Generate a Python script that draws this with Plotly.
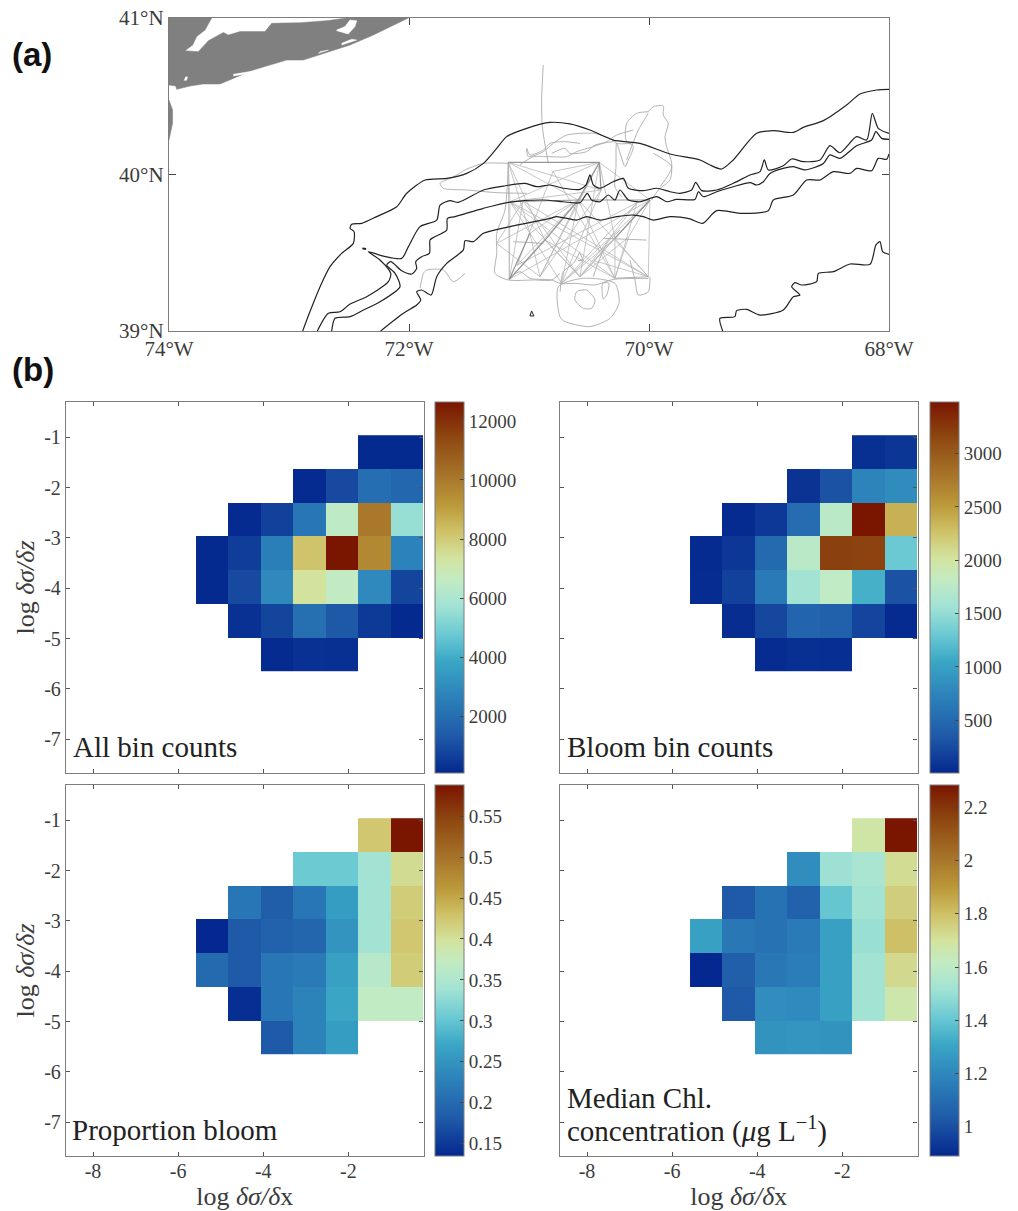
import plotly.graph_objects as go

# ---------- Map data (lon / lat) ----------
land_lon = [-74.0,-73.644,-73.70,-73.769,-73.803,-73.867,-73.756,-73.672,-73.547,-73.506,-73.408,-73.325,-73.20,-73.144,-72.908,-72.686,-72.519,-72.006,-72.297,-72.492,-72.742,-72.881,-73.019,-73.158,-73.297,-73.464,-73.575,-73.714,-73.825,-73.936,-73.944,-74.0]
land_lat = [41.0,41.0,40.923,40.881,40.827,40.791,40.785,40.855,40.908,40.891,40.913,40.913,40.913,40.966,40.97,40.983,41.0,41.0,40.891,40.827,40.763,40.731,40.731,40.70,40.668,40.614,40.578,40.578,40.565,40.544,40.565,40.572]
sliver_lon = [-74.0,-73.97,-73.97,-74.0]
sliver_lat = [40.476,40.412,40.327,40.22]
bay_lon = [-72.603,-72.533,-72.492,-72.436,-72.45,-72.506,-72.603,None,-73.464,-73.325,-73.158,-73.164,-73.269,-73.464,None,-72.561,-72.478,-72.436,-72.492,-72.561,None,-72.742,-72.672,-72.756,None,-73.875,-73.86,-73.845,-73.855]
bay_lat = [40.923,40.945,40.987,40.983,40.945,40.898,40.919,None,40.640,40.658,40.665,40.655,40.652,40.630,None,40.838,40.864,40.859,40.844,40.827,None,40.785,40.795,40.774,None,40.60,40.625,40.622,40.60]

iso_a_lon = [-72.886,-72.825,-72.741,-72.658,-72.561,-72.464,-72.458,-72.491,-72.477,-72.394,-72.269,-72.102,-72.019,-71.866,-71.686,-71.519,-71.38,-71.269,-71.186,-71.019,-70.825,-70.659,-70.492,-70.298,-70.075,-69.825,-69.575,-69.492,-69.395,-69.298,-69.103,-68.964,-68.798,-68.714,-68.547,-68.353,-68.242,-68.103,-68.0]
iso_a_lat = [39.0,39.124,39.283,39.411,39.496,39.56,39.635,39.656,39.682,39.688,39.731,39.794,39.88,39.965,39.975,40.007,40.071,40.167,40.242,40.295,40.333,40.323,40.284,40.22,40.199,40.131,40.093,40.061,40.035,40.093,40.263,40.28,40.269,40.301,40.344,40.444,40.514,40.54,40.544]

iso_b_lon = [-72.764,-72.672,-72.575,-72.491,-72.353,-72.172,-72.152,-72.242,-72.339,-72.214,-72.061,-72.005,-71.908,-71.769,-71.741,-71.658,-71.589,-71.38,-71.214,-71.033,-70.936,-70.825,-70.714,-70.575,-70.525,-70.492,-70.464,-70.409,-70.298,-70.214,-70.172,-70.047,-69.936,-69.825,-69.742,-69.645,-69.611,-69.561,-69.436,-69.297,-69.158,-69.075,-69.039,-69.006,-68.881,-68.811,-68.714,-68.575,-68.492,-68.409,-68.27,-68.186,-68.139,-68.089,-68.0]
iso_b_lat = [39.0,39.113,39.123,39.172,39.219,39.315,39.368,39.454,39.507,39.479,39.464,39.539,39.667,39.709,39.805,39.833,39.822,39.901,39.926,39.943,39.922,39.933,39.912,39.905,39.933,39.997,39.933,39.912,39.954,39.975,39.912,39.897,39.912,39.89,39.88,39.901,39.95,39.897,39.901,39.944,39.997,40.018,40.093,40.029,40.056,40.099,40.082,40.093,40.184,40.139,40.242,40.22,40.391,40.295,40.263]

iso_c_lon = [-72.644,-72.616,-72.491,-72.38,-72.241,-72.075,-72.116,-72.186,-72.152,-72.061,-71.977,-71.936,-71.944,-71.894,-71.83,-71.825,-71.797,-71.686,-71.68,-71.616,-71.38,-71.158,-70.881,-70.714,-70.575,-70.514,-70.478,-70.409,-70.339,-70.284,-70.242,-70.172,-70.075,-69.936,-69.853,-69.77,-69.617,-69.589,-69.547,-69.436,-69.297,-69.158,-69.103,-69.047,-68.992,-68.881,-68.797,-68.70,-68.547,-68.492,-68.409,-68.27,-68.145,-68.109,-68.061,-68.0]
iso_c_lat = [39.0,39.081,39.092,39.134,39.187,39.283,39.368,39.422,39.443,39.385,39.364,39.40,39.443,39.475,39.496,39.581,39.598,39.645,39.72,39.731,39.784,39.824,39.837,39.826,39.82,39.88,39.837,39.826,39.869,39.837,39.901,39.837,39.826,39.858,39.826,39.841,39.841,39.89,39.858,39.89,39.922,39.948,39.933,39.954,40.007,40.039,40.05,40.029,40.071,40.125,40.103,40.184,40.22,40.274,40.231,40.225]

iso_d_lon = [-72.236,-72.047,-71.936,-71.902,-71.936,-71.894,-71.816,-71.769,-71.686,-71.547,-71.533,-71.463,-71.38,-71.158,-70.825,-70.77,-70.603,-70.52,-70.409,-70.27,-70.131,-70.047,-69.964,-69.825,-69.658,-69.553,-69.436,-69.242,-69.006,-68.964,-68.797,-68.686,-68.575,-68.464,-68.325,-68.27,-68.145,-68.089,-68.02,-68.0]
iso_d_lat = [39.0,39.113,39.166,39.198,39.251,39.262,39.23,39.347,39.432,39.518,39.577,39.571,39.624,39.667,39.72,39.731,39.709,39.731,39.709,39.731,39.741,39.731,39.709,39.731,39.716,39.688,39.769,39.752,39.769,39.837,39.869,39.965,39.965,40.018,40.007,40.039,40.024,40.103,40.097,40.131]

iso_e_lon = [-69.386,-69.409,-69.284,-69.27,-69.186,-69.075,-68.881,-68.797,-68.742,-68.811,-68.784,-68.728,-68.603,-68.589,-68.464,-68.325,-68.158,-68.109,-68.075,-68.053,-68.0]
iso_e_lat = [39.0,39.081,39.092,39.13,39.138,39.102,39.134,39.219,39.23,39.283,39.309,39.294,39.315,39.368,39.379,39.428,39.426,39.55,39.571,39.507,39.49]

islet_lon = [-70.992,-70.978,-70.959,-70.992]
islet_lat = [39.096,39.128,39.096,39.096]
dash_lon = [-72.389,-72.358]
dash_lat = [39.528,39.524]

# Survey stations and the legs run between them
station_lon = [-71.173,-70.414,-71.159,-70.589,-69.992,-71.164,-70.006,-70.284,-70.867,-70.728,-70.284,-70.575,-70.992,-70.909,-71.27,-70.40,-71.05,-70.10,-70.80,-70.46,-70.17,-71.10]
station_lat = [40.078,40.078,39.826,39.837,39.837,39.33,39.347,39.592,39.581,39.305,39.337,39.347,39.624,39.347,39.56,39.90,39.83,39.82,40.02,39.45,39.60,39.42]
light_legs = [(0,2),(1,3),(0,5),(2,5),(2,6),(3,6),(3,10),(3,5),(4,5),(4,9),(4,6),(4,11),(1,11),(0,3),(1,2),(0,8),(8,11),
              (7,10),(7,6),(2,10),(2,11),(12,13),(13,3),(14,3),(14,13),(1,7),(0,12),(12,3),(9,7),(11,7),(13,1),(8,10),(2,9),(1,4),(3,9),
              (15,9),(15,13),(16,11),(16,6),(17,11),(17,9),(18,21),(18,10),(19,6),(19,4),(20,11),(20,4),(21,3),(21,17),(0,15),(18,1),(2,15),(14,16),(5,16),(10,17),(20,10)]
dense_legs = [(0,1),(2,3),(3,4),(5,8),(8,3),(7,4),(1,3),(5,12),(2,16),(15,1)]

track_lon = [-70.881,-70.895,-70.889,-70.839,None,
 -70.006,-69.964,-69.881,-69.881,-69.839,-69.867,-69.853,-69.811,-69.825,-69.922,-69.978,None,
 -70.006,-70.103,-70.186,-70.192,-70.131,-70.172,-70.20,-70.27,-70.275,-70.284,-70.228,None,
 -70.006,-70.089,-70.145,-70.186,None,-69.964,-69.811,-69.908,None,
 -71.02,-71.006,-70.881,-70.798,-70.686,-70.464,-70.325,-70.27,-70.145,None,
 -71.075,-70.964,-70.853,-70.686,-70.603,-70.464,-70.353,-70.27,-70.131,None,
 -71.172,-71.38,-71.533,-71.602,-71.658,-71.741,-71.714,-71.519,-71.269,-71.019,None,
 -71.908,-71.88,-71.852,-71.714,-71.63,-71.533,None,
 -71.172,-71.20,-71.269,-71.269,-71.283,-71.172,-70.964,-70.811,-70.742,None,
 -70.756,-70.742,-70.70,-70.492,-70.325,-70.25,-70.284,-70.547,-70.756,None,-70.284,-70.006,None,
 -70.603,-70.52,-70.45,-70.478,-70.547,-70.617,-70.603,None,
 -70.386,-70.334,-70.353,-70.381,-70.386,None,
 -70.159,-70.117,-70.089,-70.006,-69.992,None,
 -70.575,-70.555,-70.592,-70.545,None,
 -71.019,-70.991,-70.880,-70.825,-70.714,-70.575,None,
 -70.811,-70.700,-70.658,-70.519,-70.450,-70.297,None,
 -71.172,-71.075,-70.99,-70.811,-70.741,-70.602,-70.45,-70.297,-70.005,None,
 -70.741,-70.714,-70.63,-70.575,None,
 -71.13,-70.88,None,-70.38,-70.02,None,
 -70.464,-70.436,-70.352,-70.241]
track_lat = [40.70,40.476,40.306,40.071,None,
 40.401,40.433,40.438,40.38,40.327,40.242,40.178,40.071,39.965,39.901,39.837,None,
 40.401,40.391,40.327,40.22,40.178,40.093,40.05,40.199,40.05,39.922,39.858,None,
 40.391,40.284,40.178,40.093,None,40.135,40.05,39.922,None,
 40.167,40.114,40.146,40.199,40.252,40.263,40.231,40.199,40.199,None,
 40.061,40.114,40.114,40.114,40.146,40.178,40.21,40.252,40.284,None,
 40.071,40.071,40.029,39.997,39.975,39.944,39.912,39.901,39.884,39.88,None,
 39.273,39.368,39.39,39.39,39.315,39.368,None,
 40.071,39.773,39.624,39.496,39.368,39.326,39.326,39.326,39.368,None,
 39.283,39.091,39.06,39.028,39.081,39.177,39.305,39.337,39.283,None,39.337,39.347,None,
 39.251,39.262,39.198,39.145,39.145,39.198,39.251,None,
 39.305,39.305,39.23,39.204,39.305,None,
 39.454,39.326,39.23,39.251,39.347,None,
 39.496,39.455,39.45,39.451,None,
 40.167,40.125,40.157,40.199,40.21,40.199,None,
 40.135,40.167,40.135,40.146,40.188,40.21,None,
 39.336,39.379,39.336,39.326,39.304,39.304,39.294,39.33,39.336,None,
 39.251,39.379,39.432,39.507,None,
 39.571,39.56,None,39.592,39.581,None,
 39.347,39.411,39.56,39.645]

map_lon_ticks = [-74,-72,-70,-68]
map_lon_labels = ["74°W","72°W","70°W","68°W"]
map_lat_ticks = [39,40,41]
map_lat_labels = ["39°N","40°N","41°N"]

# ---------- Binned data: rows run top to bottom, columns left to right ----------
x_edges = [-5.58,-4.82,-4.055,-3.29,-2.53,-1.765,-1.0,-0.235]
y_edges = [-0.96,-1.63,-2.305,-2.975,-3.645,-4.315,-4.985,-5.655]
N = None
all_counts = [
 [N,N,N,N,N,100,100],
 [N,N,N,150,900,2000,1800],
 [N,150,700,2300,6500,10050,5550],
 [100,600,2600,8200,12640,9600,2700],
 [100,900,2900,7400,6600,2900,800],
 [N,300,800,2100,1300,500,100],
 [N,N,150,300,250,N,N]]
bloom_counts = [
 [N,N,N,N,N,60,100],
 [N,N,N,80,300,750,820],
 [N,20,120,520,1750,3480,2370],
 [20,110,500,1750,3200,3180,1305],
 [30,180,650,1580,1800,1120,300],
 [N,40,220,450,420,210,20],
 [N,N,30,60,50,N,N]]
proportion = [
 [N,N,N,N,N,0.425,0.588],
 [N,N,N,0.305,0.305,0.34,0.405],
 [N,0.215,0.185,0.215,0.26,0.34,0.42],
 [0.135,0.18,0.19,0.195,0.25,0.34,0.425],
 [0.20,0.18,0.215,0.22,0.265,0.36,0.42],
 [N,0.14,0.215,0.23,0.27,0.37,0.37],
 [N,N,0.18,0.23,0.26,N,N]]
median_chl = [
 [N,N,N,N,N,1.68,2.284],
 [N,N,N,1.22,1.51,1.54,1.72],
 [N,1.03,1.12,1.06,1.40,1.52,1.76],
 [1.29,1.14,1.12,1.15,1.29,1.50,1.80],
 [0.89,1.05,1.14,1.16,1.29,1.52,1.73],
 [N,1.03,1.22,1.21,1.29,1.52,1.67],
 [N,N,1.24,1.25,1.24,N,N]]

ticks_all = [2000,4000,6000,8000,10000,12000]
ticks_bloom = [500,1000,1500,2000,2500,3000]
ticks_prop = [0.15,0.2,0.25,0.3,0.35,0.4,0.45,0.5,0.55]
labels_prop = ["0.15","0.2","0.25","0.3","0.35","0.4","0.45","0.5","0.55"]
ticks_chl = [1,1.2,1.4,1.6,1.8,2,2.2]
labels_chl = ["1","1.2","1.4","1.6","1.8","2","2.2"]
x_ticks = [-8,-6,-4,-2]
x_labels = ["-8","-6","-4","-2"]
y_ticks = [-7,-6,-5,-4,-3,-2,-1]
y_labels = ["-7","-6","-5","-4","-3","-2","-1"]

colorscale = [[0,"#04288f"],[0.1,"#1f5aa8"],[0.2,"#2b7fb9"],[0.3,"#3aa6c5"],[0.37,"#68c8d3"],
              [0.45,"#a2e3d4"],[0.52,"#c2ebc3"],[0.58,"#d3e39e"],[0.65,"#cfc268"],[0.72,"#bc9a3a"],
              [0.8,"#a8752a"],[0.9,"#8f4a12"],[1,"#7a1500"]]

# ---------- Style and layout ----------
W, H = 1018, 1211
SERIF = "Liberation Serif, serif"
TXT = "#3c3c3c"
BOX = "#7d7d7d"

def fx(p): return p / W
def fy(p): return 1 - p / H

def legs_to_path(legs):
    xs, ys = [], []
    for a, b in legs:
        xs += [station_lon[a], station_lon[b], None]
        ys += [station_lat[a], station_lat[b], None]
    return xs, ys

fig = go.Figure()

def map_line(x, y, color="#222222", width=1.2, smooth=False):
    line = dict(color=color, width=width)
    if smooth:
        line.update(shape="spline", smoothing=0.7)
    fig.add_trace(go.Scatter(x=x, y=y, mode="lines", line=line, connectgaps=False,
                             xaxis="x", yaxis="y", showlegend=False, hoverinfo="skip"))

def map_fill(x, y, color):
    fig.add_trace(go.Scatter(x=x, y=y, mode="lines", fill="toself", fillcolor=color,
                             line=dict(color=color, width=0.5), xaxis="x", yaxis="y",
                             showlegend=False, hoverinfo="skip"))

map_fill(land_lon, land_lat, "#808080")
map_fill(sliver_lon, sliver_lat, "#808080")
map_fill(bay_lon, bay_lat, "#ffffff")
lx, ly = legs_to_path(light_legs)
map_line(lx, ly, "#b8b8b8", 0.8)
map_line(track_lon, track_lat, "#aaaaaa", 0.9, smooth=True)
dx, dy = legs_to_path(dense_legs)
map_line(dx, dy, "#969696", 1.2)
for xs, ys in [(iso_a_lon, iso_a_lat), (iso_b_lon, iso_b_lat), (iso_c_lon, iso_c_lat),
               (iso_d_lon, iso_d_lat), (iso_e_lon, iso_e_lat)]:
    map_line(xs, ys, smooth=True)
map_line(islet_lon, islet_lat, "#222222", 1.0)
map_line(dash_lon, dash_lat, "#222222", 2.0)

panels = [
    (all_counts,   81,   12640, ticks_all,   [str(t) for t in ticks_all],   66,  402, 435),
    (bloom_counts, 6,    3484,  ticks_bloom, [str(t) for t in ticks_bloom], 560, 402, 929.5),
    (proportion,   0.135,0.588, ticks_prop,  labels_prop,                   66,  785, 435),
    (median_chl,   0.89, 2.284, ticks_chl,   labels_chl,                    560, 785, 929.5),
]
PW, PH, BW = 357.5, 371, 28.5
layout_axes = {}
for i, (z, zmin, zmax, ct, cl, left, top, barx) in enumerate(panels):
    n = i + 2
    fig.add_trace(go.Heatmap(
        x=x_edges, y=y_edges, z=z, zmin=zmin, zmax=zmax, colorscale=colorscale, xgap=0, ygap=0,
        xaxis=f"x{n}", yaxis=f"y{n}", hoverongaps=False,
        colorbar=dict(x=fx(barx), xanchor="left", xref="paper", y=fy(top), yanchor="top", yref="paper",
                      len=PH, lenmode="pixels", thickness=BW, thicknessmode="pixels",
                      xpad=0, ypad=0, outlinecolor=BOX, outlinewidth=1, tickmode="array",
                      tickvals=ct, ticktext=cl, ticks="inside", ticklen=4, tickcolor="#444444", tickwidth=1,
                      tickfont=dict(family=SERIF, size=19, color=TXT))))
    bottom_row = i >= 2
    left_col = i % 2 == 0
    xa = dict(
        domain=[fx(left), fx(left + PW)], range=[-8.635, -0.235], anchor=f"y{n}",
        tickmode="array", tickvals=x_ticks, showticklabels=bottom_row,
        ticks="inside", ticklen=4, tickcolor="#555555", showgrid=False, zeroline=False, showline=True,
        linecolor=BOX, linewidth=1.3, mirror="ticks")
    ya = dict(
        domain=[fy(top + PH), fy(top)], range=[-7.67, -0.3], anchor=f"x{n}",
        tickmode="array", tickvals=y_ticks, showticklabels=left_col,
        ticks="inside", ticklen=4, tickcolor="#555555", showgrid=False, zeroline=False, showline=True,
        linecolor=BOX, linewidth=1.3, mirror="ticks")
    if bottom_row:
        xa.update(ticktext=x_labels, ticklabelstandoff=-3, tickfont=dict(family=SERIF, size=20, color=TXT),
                  title=dict(text="log <i>δσ/δ</i>x", font=dict(family=SERIF, size=26, color=TXT), standoff=4))
    if left_col:
        ya.update(ticktext=y_labels, tickfont=dict(family=SERIF, size=20, color=TXT),
                  title=dict(text="log <i>δσ/δz</i>", font=dict(family=SERIF, size=26, color=TXT), standoff=2))
    layout_axes[f"xaxis{n}"] = xa
    layout_axes[f"yaxis{n}"] = ya

annotations = [
    dict(text="<b>(a)</b>", x=fx(10), y=fy(54), xanchor="left", yanchor="middle",
         font=dict(family="Liberation Sans", size=33, color="#111111")),
    dict(text="<b>(b)</b>", x=fx(10), y=fy(369), xanchor="left", yanchor="middle",
         font=dict(family="Liberation Sans", size=33, color="#111111")),
    dict(text="All bin counts", x=fx(71), y=fy(747), xanchor="left", yanchor="middle",
         font=dict(family=SERIF, size=29, color="#222222")),
    dict(text="Bloom bin counts", x=fx(565), y=fy(747), xanchor="left", yanchor="middle",
         font=dict(family=SERIF, size=29, color="#222222")),
    dict(text="Proportion bloom", x=fx(70), y=fy(1130), xanchor="left", yanchor="middle",
         font=dict(family=SERIF, size=29, color="#222222")),
    dict(text="Median Chl.", x=fx(565), y=fy(1098), xanchor="left", yanchor="middle",
         font=dict(family=SERIF, size=29, color="#222222")),
    dict(text="concentration (<i>μ</i>g L<sup>−1</sup>)", x=fx(565), y=fy(1129), xanchor="left",
         yanchor="middle", font=dict(family=SERIF, size=29, color="#222222")),
]
for a in annotations:
    a.update(xref="paper", yref="paper", showarrow=False)

fig.update_layout(
    width=W, height=H, autosize=False, margin=dict(l=0, r=0, t=0, b=0, autoexpand=False),
    paper_bgcolor="white", plot_bgcolor="white", showlegend=False, annotations=annotations,
    xaxis=dict(domain=[fx(169), fx(889)], range=[-74, -68], anchor="y", tickmode="array",
               tickvals=map_lon_ticks, ticktext=map_lon_labels, ticklabelstandoff=-1, ticks="inside", ticklen=7,
               tickcolor="#444444", showgrid=False, zeroline=False, showline=True, linecolor=BOX,
               linewidth=1.3, mirror="ticks", tickfont=dict(family=SERIF, size=21, color=TXT)),
    yaxis=dict(domain=[fy(331), fy(18)], range=[39, 41], anchor="x", tickmode="array",
               tickvals=map_lat_ticks, ticktext=map_lat_labels, ticks="inside", ticklen=7,
               tickcolor="#444444", showgrid=False, zeroline=False, showline=True, linecolor=BOX,
               linewidth=1.3, mirror="ticks", tickfont=dict(family=SERIF, size=21, color=TXT)),
    **layout_axes)

fig.write_html("out.html", config={"displayModeBar": False},
               post_script="document.body.style.margin='0';document.body.style.overflow='hidden';")
